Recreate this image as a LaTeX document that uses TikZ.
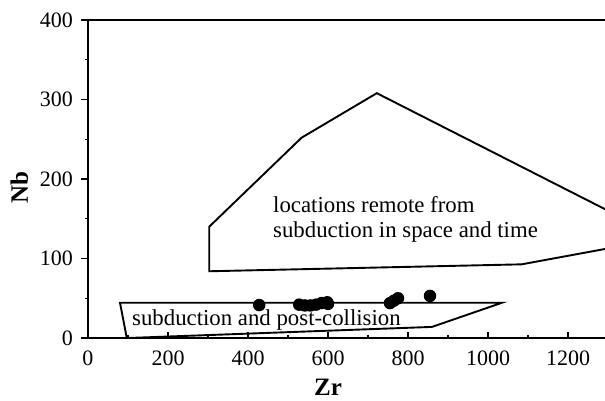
\documentclass[tikz,border=0pt]{standalone}
\usepackage{fontspec}
\setmainfont{Liberation Serif}
\begin{document}
\begin{tikzpicture}[x=0.4pt,y=0.795pt,
  axisline/.style={line width=2.1pt,line cap=rect},
  field/.style={line width=1.9pt,line join=miter},
  ticklab/.style={font=\fontsize{22}{24}\selectfont,inner sep=0pt},
  axtitle/.style={font=\fontsize{25}{28}\selectfont\bfseries,inner sep=0pt},
  fieldlab/.style={font=\fontsize{22.8}{25}\selectfont,inner sep=0pt,anchor=base west},
  sample/.style={circle,fill=black,inner sep=0pt,minimum size=12.5pt}]
\useasboundingbox (-220,-78) rectangle (1292.5,425.2);
\clip (-220,-78) rectangle (1292.5,425.2);

% axes frame
\coordinate (o) at (0,0);
\coordinate (ytop) at (0,400);
\coordinate (xend) at (1300,0);
\coordinate (tend) at (1300,400);
\draw[axisline] (xend) -- (o) -- (ytop) -- (tend);

% x ticks (inward) and labels
\foreach \v in {0,200,...,1200} {
  \draw[line width=1.4pt] (\v,0) -- (\v,7.5);
  \node[ticklab,anchor=base] (xl\v) at (\v,-34) {\v};
}
\foreach \v in {100,300,...,1100} \draw[line width=1.4pt] (\v,0) -- (\v,3.8);

% y ticks (outward) and labels
\foreach \v in {0,100,...,400} {
  \draw[line width=1.4pt] (0,\v) -- (-17.5,\v);
  \node[ticklab,anchor=east] (yl\v) at (-37.5,\v) {\v};
}
\foreach \v in {50,150,...,350} \draw[line width=1.4pt] (0,\v) -- (-7.5,\v);

% axis titles
\node[axtitle,anchor=base] (zr) at (600,-72) {Zr};
\node[axtitle,anchor=base,rotate=90] (nb) at (-150,188.7) {Nb};

% field: locations remote from subduction
\draw[field] (1400,134.6) -- (722,308) -- (534,252) -- (303,140) -- (303,84)
  -- (1084,92.7) -- (1400,122);
\node[fieldlab] (remote1) at (462.5,158.5) {locations remote from};
\node[fieldlab] (remote2) at (462.5,127) {subduction in space and time};

% field: subduction and post-collision
\draw[field] (80,44.4) -- (1035,44.4) -- (860,14) -- (97,0) -- cycle;
\node[fieldlab] (subd) at (110,16.4) {subduction and post-collision};

% samples
\foreach \zr/\nb [count=\i] in {428/41.5, 528/42, 542/41, 556/41, 570/42,
    584/44, 598/45, 600/43, 755/44, 765/47, 775/50, 855/53}
  \node[sample] (s\i) at (\zr,\nb) {};
\end{tikzpicture}
\end{document}
